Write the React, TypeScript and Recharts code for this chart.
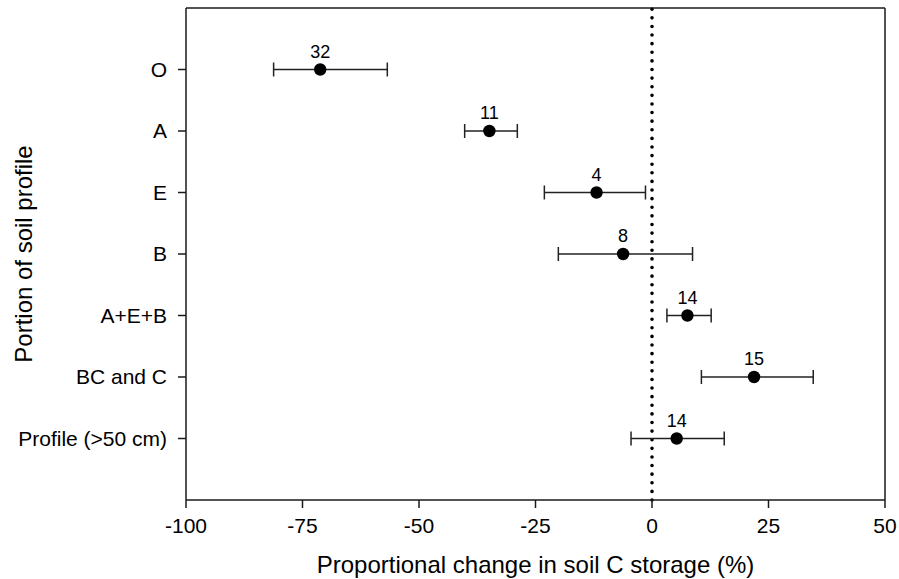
import React from 'react';
import { ScatterChart, Scatter, XAxis, YAxis, ErrorBar, ReferenceLine, Label } from 'recharts';

// horizons, top to bottom
const categories = ['O', 'A', 'E', 'B', 'A+E+B', 'BC and C', 'Profile (>50 cm)'];
const means = [-71.2, -34.9, -11.9, -6.2, 7.6, 21.9, 5.3];
const lower = [-81.2, -40.2, -23.1, -20.1, 3.2, 10.6, -4.5];
const upper = [-56.8, -28.9, -1.4, 8.7, 12.7, 34.6, 15.5];
const counts = [32, 11, 4, 8, 14, 15, 14];
const xTicks = [-100, -75, -50, -25, 0, 25, 50];

const data = categories.map((c, i) => ({
    pos: i + 1,
    x: means[i],
    err: [means[i] - lower[i], upper[i] - means[i]],
    n: counts[i],
}));

const axisColor = '#1a1a1a';

// eslint-disable-next-line @typescript-eslint/no-explicit-any
const Dot = (props: any) => {
    const { cx, cy, payload } = props;
    return (
        <g>
            <circle cx={cx} cy={cy} r={6.2} fill="#000" />
            <text x={cx} y={cy - 12} textAnchor="middle" fontSize={18} fill="#000">
                {payload.n}
            </text>
        </g>
    );
};

export default function App() {
    return (
        <div style={{ width: 899, height: 579, fontFamily: '"Liberation Sans", Arial, sans-serif', background: '#fff' }}>
            <style>{'body{margin:0}'}</style>
            <ScatterChart width={899} height={579} margin={{ top: 8, right: 14, bottom: 0, left: 0 }}>
                <XAxis
                    type="number"
                    dataKey="x"
                    domain={[-100, 50]}
                    ticks={xTicks}
                    height={79}
                    tickSize={8}
                    tickMargin={10}
                    tick={{ fill: '#000', fontSize: 21 }}
                    axisLine={{ stroke: axisColor, strokeWidth: 1.5 }}
                    tickLine={{ stroke: axisColor, strokeWidth: 1.5 }}
                >
                    <Label
                        value="Proportional change in soil C storage (%)"
                        position="insideBottom"
                        offset={6}
                        style={{ fontSize: 24, fill: '#000' }}
                    />
                </XAxis>
                <YAxis
                    type="number"
                    dataKey="pos"
                    domain={[0, 8]}
                    ticks={[1, 2, 3, 4, 5, 6, 7]}
                    reversed
                    width={186}
                    tickSize={8}
                    tickMargin={11}
                    interval={0}
                    tickFormatter={(v: number) => categories[v - 1]}
                    tick={{ fill: '#000', fontSize: 21 }}
                    axisLine={{ stroke: axisColor, strokeWidth: 1.5 }}
                    tickLine={{ stroke: axisColor, strokeWidth: 1.5 }}
                >
                    <Label
                        value="Portion of soil profile"
                        angle={-90}
                        position="insideLeft"
                        offset={23}
                        style={{ fontSize: 24, fill: '#000', textAnchor: 'middle' }}
                    />
                </YAxis>
                {/* box top and right */}
                <ReferenceLine y={0} stroke={axisColor} strokeWidth={1.5} />
                <ReferenceLine x={50} stroke={axisColor} strokeWidth={1.5} />
                <ReferenceLine
                    x={0}
                    stroke="#000"
                    strokeWidth={3.6}
                    strokeDasharray="0.01 8.6"
                    strokeLinecap="round"
                />
                <Scatter data={data} shape={<Dot />} isAnimationActive={false}>
                    <ErrorBar
                        dataKey="err"
                        direction="x"
                        width={7}
                        stroke="#222"
                        strokeWidth={1.5}
                        isAnimationActive={false}
                    />
                </Scatter>
            </ScatterChart>
        </div>
    );
}
